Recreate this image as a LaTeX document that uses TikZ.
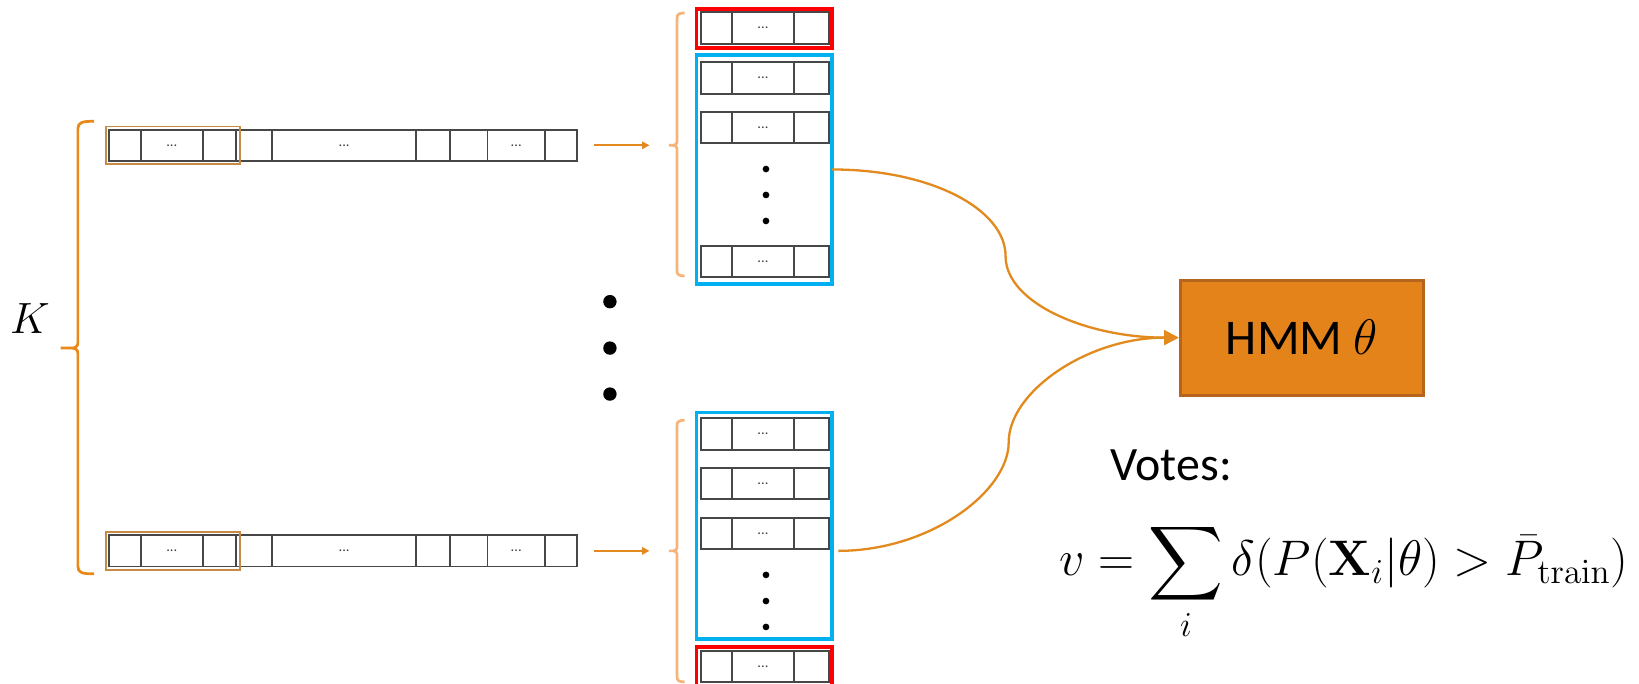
\RequirePackage{fix-cm}
\documentclass[tikz,border=0pt]{standalone}
\usepackage[no-math]{fontspec}
\usepackage{amsmath}
\newfontfamily\calibri{Carlito}
\usetikzlibrary{arrows.meta,fit,calc}

\definecolor{curveorange}{HTML}{E28A1E}
\definecolor{braceorange}{HTML}{E8891A}
\definecolor{lightbrace}{HTML}{F5B57A}
\definecolor{frameorange}{HTML}{C68B45}
\definecolor{hmmfill}{HTML}{E4831A}
\definecolor{hmmedge}{HTML}{B5651D}
\definecolor{boxblue}{HTML}{00B0F0}
\definecolor{boxred}{HTML}{FF0000}

\tikzset{
  cellline/.style={draw=black!72, line width=0.9bp},
  celldots/.style={font=\calibri\fontsize{7}{8}\selectfont, text=black!75, inner sep=0pt},
  seqframe/.style={draw=frameorange, line width=0.8bp},
  blueframe/.style={draw=boxblue, line width=1.5bp},
  redframe/.style={draw=boxred, line width=1.5bp},
  bigbrace/.style={draw=braceorange, line width=1.3bp},
  smallbrace/.style={draw=lightbrace, line width=1.3bp},
  feedarrow/.style={draw=curveorange, line width=0.8bp, -{Triangle[length=3.5bp,width=3.5bp]}},
  tohmm/.style={draw=curveorange, line width=1.1bp, -{Triangle[length=7bp,width=7bp]}},
  hmmbox/.style={rectangle, fill=hmmfill, draw=hmmedge, line width=1.4bp,
    minimum width=116.5bp, minimum height=55bp, font=\calibri\fontsize{24}{28}\selectfont},
  bigdot/.style={fill=black},
  fitbox/.style={inner sep=0pt, outer sep=0pt}
}

% a long observation sequence centred at height #2, named #1
\newcommand\longseq[2]{%
  \node[fitbox, fit={(104.3,#2-15) (551.7,#2+15)}] (#1) {};
  \draw[cellline] (104.3,#2-15) rectangle (551.7,#2+15);
  \foreach \xx in {134.7,194,226,260,398.3,430.5,466.4,521.3}
    \draw[cellline] (\xx,#2-15) -- (\xx,#2+15);
  \node[celldots] at (164.4,#2) {...};
  \node[celldots] at (329.2,#2) {...};
  \node[celldots] at (493.9,#2) {...};
  \draw[seqframe] (101.4,#2-18) rectangle (229.9,#2+18);
}

% one short window row centred at height #1
\newcommand\winrow[1]{%
  \draw[cellline] (670.6,#1-15) rectangle (793,#1+15);
  \draw[cellline] (700.3,#1-15) -- (700.3,#1+15);
  \draw[cellline] (759.6,#1-15) -- (759.6,#1+15);
  \node[celldots] at (729.9,#1) {...};
}

% brace in front of a column of windows: top #1, tip #2, bottom #3
\newcommand\colbrace[3]{%
  \draw[smallbrace] (655,#1) .. controls (650,#1) and (647.7,#1+1) .. (647.7,#1+5)
    -- (647.7,#2-3) .. controls (647.7,#2-1) and (646,#2) .. (644,#2) -- (640,#2)
    (644,#2) .. controls (646,#2) and (647.7,#2+1) .. (647.7,#2+3)
    -- (647.7,#3-5) .. controls (647.7,#3-1) and (650,#3) .. (655,#3);
}

\begin{document}
\begin{tikzpicture}[x=0.5bp,y=-0.5bp]
\clip (0,0) rectangle (1568,654);
\fill[white] (0,0) rectangle (1568,654);

% ---- K sequences and their brace ----
\longseq{seqA}{139}
\longseq{seqB}{527}

\draw[bigbrace] (90,116) .. controls (79,116) and (74.5,117) .. (74.5,123)
  -- (74.5,328) .. controls (74.5,331.5) and (72,333) .. (68,333) -- (58,333)
  (68,333) .. controls (72,333) and (74.5,334.5) .. (74.5,338)
  -- (74.5,542) .. controls (74.5,548) and (79,549) .. (90,549);
\node[font=\fontsize{21}{25}\selectfont] (K) at (28.5,305) {$K$};

% ---- vertical ellipsis between the sequences ----
\fill[bigdot] (583.5,288.6) circle (6.4);
\fill[bigdot] (583.5,333) circle (6.4);
\fill[bigdot] (583.5,377) circle (6.4);

% ---- windows cut from the first sequence ----
\coordinate (tipA) at (640,139);
\colbrace{12.4}{139}{264}
\node[fitbox, fit={(666,8.6) (796,45.9)}, redframe] (redA) {};
\winrow{26.8}
\node[fitbox, fit={(666,52.6) (796,271.7)}, blueframe] (blueA) {};
\winrow{74.6}
\winrow{122}
\winrow{250.2}
\fill[bigdot] (732.8,161.7) circle (3.2);
\fill[bigdot] (732.8,186.5) circle (3.2);
\fill[bigdot] (732.8,211.4) circle (3.2);

% ---- windows cut from the last sequence ----
\coordinate (tipB) at (640,527);
\colbrace{402}{527}{652.4}
\node[fitbox, fit={(666,395) (796,611.3)}, blueframe] (blueB) {};
\winrow{415.2}
\winrow{462.5}
\winrow{510.4}
\fill[bigdot] (732.8,550) circle (3.2);
\fill[bigdot] (732.8,575) circle (3.2);
\fill[bigdot] (732.8,599.8) circle (3.2);
\node[fitbox, fit={(666,619) (796,657)}, redframe] (redB) {};
\winrow{637.4}

\draw[feedarrow, shorten <=8.2bp, shorten >=9.3bp] (seqA.east) -- (tipA);
\draw[feedarrow, shorten <=8.2bp, shorten >=9.3bp] (seqB.east) -- (tipB);

% ---- model ----
\node[hmmbox] (hmm) at (1245.5,323) {HMM $\theta$};

\draw[tohmm] (blueA.east) .. controls (890,162) and (962,200) .. (962,245)
  .. controls (962,290) and (1040,323) .. (hmm.west);
\draw[tohmm, shorten <=3bp] (blueB.east |- seqB.center) .. controls (890,527) and (965,470) .. (965,423)
  .. controls (965,375) and (1040,323) .. (hmm.west);

% ---- voting rule ----
\node[anchor=base west, inner sep=0pt, font=\calibri\fontsize{23}{27}\selectfont] (votes)
  at (1062,460) {Votes:};
\node[anchor=base west, inner sep=0pt, font=\fontsize{24}{28}\selectfont] (rule)
  at (1013,551) {$\displaystyle v=\sum_i \delta(P(\mathbf{X}_i|\theta)>\bar{P}_{\mathrm{train}})$};
\end{tikzpicture}
\end{document}
